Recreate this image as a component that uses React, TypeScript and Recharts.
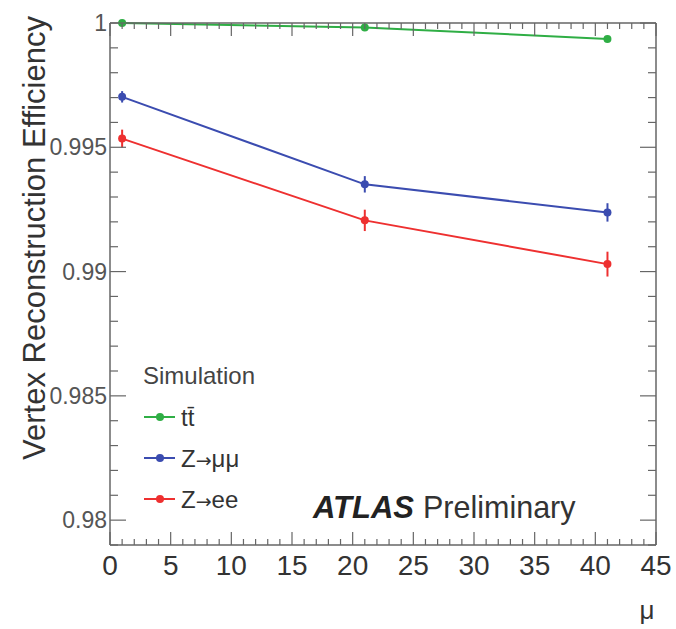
import { LineChart, Line, XAxis, YAxis, ErrorBar } from 'recharts';

// pile-up values and efficiencies
const mu = [1, 21, 41];
const ttbar = [1.0, 0.99982, 0.99936];
const zmumu = [0.99703, 0.99351, 0.99238];
const zmumuErr = [0.00023, 0.00033, 0.00037];
const zee = [0.99535, 0.99206, 0.9903];
const zeeErr = [0.00036, 0.00043, 0.0005];

const xMajorTicks = [0, 5, 10, 15, 20, 25, 30, 35, 40, 45];
const yMajorTicks = [0.98, 0.985, 0.99, 0.995, 1];
const yTickLabels = ['0.98', '0.985', '0.99', '0.995', '1'];

// minor ticks every 1 in mu and every 0.001 in efficiency
const xTicks = Array.from({ length: 46 }, (_, i) => i);
const yTicks = Array.from({ length: 22 }, (_, i) => (979 + i) / 1000);

const data = mu.map((m, i) => ({
  mu: m,
  tt: ttbar[i],
  zmm: zmumu[i],
  zmmErr: zmumuErr[i],
  zee: zee[i],
  zeeErr: zeeErr[i],
}));

const FONT = '"Liberation Sans", Arial, sans-serif';
const FRAME = '#666';
const GREEN = '#2fae45';
const BLUE = '#3b4cb0';
const RED = '#ee3030';

const isMajorX = (v: number) => xMajorTicks.includes(v);
const yMajorIndex = (v: number) => yMajorTicks.findIndex(t => Math.abs(t - v) < 1e-7);

const XTickBottom = (props: any) => {
  const { x, y, payload } = props;
  const major = isMajorX(payload.value);
  return (
    <g>
      <line x1={x} x2={x} y1={y} y2={y - (major ? 13 : 6)} stroke={FRAME} strokeWidth={1.2} />
      {major && (
        <text x={x} y={y + 30} textAnchor="middle" fontSize={28} fontFamily={FONT} fill="#333">
          {payload.value}
        </text>
      )}
    </g>
  );
};

const XTickTop = (props: any) => {
  const { x, y, payload } = props;
  const major = isMajorX(payload.value);
  return <line x1={x} x2={x} y1={y} y2={y + (major ? 13 : 6)} stroke={FRAME} strokeWidth={1.2} />;
};

const YTickLeft = (props: any) => {
  const { x, y, payload } = props;
  const idx = yMajorIndex(payload.value);
  return (
    <g>
      <line x1={x} x2={x + (idx >= 0 ? 16 : 8)} y1={y} y2={y} stroke={FRAME} strokeWidth={1.2} />
      {idx >= 0 && (
        <text x={x - 3} y={y + 8} textAnchor="end" fontSize={23} fontFamily={FONT} fill="#555">
          {yTickLabels[idx]}
        </text>
      )}
    </g>
  );
};

const YTickRight = (props: any) => {
  const { x, y, payload } = props;
  const idx = yMajorIndex(payload.value);
  return <line x1={x} x2={x - (idx >= 0 ? 16 : 8)} y1={y} y2={y} stroke={FRAME} strokeWidth={1.2} />;
};

const legendRows = [
  { pre: 'tt\u0304', arrow: '', post: '', color: GREEN, y: 417 },
  { pre: 'Z', arrow: '\u2192', post: '\u03bc\u03bc', color: BLUE, y: 458 },
  { pre: 'Z', arrow: '\u2192', post: 'ee', color: RED, y: 499 },
];

const axisLine = { stroke: FRAME, strokeWidth: 1.5 };

export default function App() {
  return (
    <div style={{ position: 'absolute', left: 0, top: 0, width: 676, height: 629, background: '#fff' }}>
      <LineChart width={676} height={629} data={data} margin={{ top: 22, right: 19, bottom: 83, left: 109 }}>
        <XAxis xAxisId="b" dataKey="mu" type="number" domain={[0, 45]} ticks={xTicks} interval={0}
          height={1} tickSize={0} tickMargin={0} tick={<XTickBottom />} axisLine={axisLine} tickLine={false} />
        <XAxis xAxisId="t" orientation="top" dataKey="mu" type="number" domain={[0, 45]} ticks={xTicks} interval={0}
          height={1} tickSize={0} tickMargin={0} tick={<XTickTop />} axisLine={axisLine} tickLine={false} />
        <YAxis yAxisId="l" type="number" domain={[0.979, 1]} ticks={yTicks} interval={0}
          width={1} tickSize={0} tickMargin={0} tick={<YTickLeft />} axisLine={axisLine} tickLine={false} />
        <YAxis yAxisId="r" orientation="right" type="number" domain={[0.979, 1]} ticks={yTicks} interval={0}
          width={1} tickSize={0} tickMargin={0} tick={<YTickRight />} axisLine={axisLine} tickLine={false} />
        {/* invisible series so the top and right frame axes are drawn */}
        <Line xAxisId="t" yAxisId="r" dataKey="tt" stroke="none" dot={false} activeDot={false} isAnimationActive={false} />
        <Line xAxisId="b" yAxisId="l" type="linear" dataKey="tt" stroke={GREEN} strokeWidth={2}
          dot={{ r: 4, fill: GREEN, stroke: GREEN, strokeWidth: 0 }} activeDot={false} isAnimationActive={false} />
        <Line xAxisId="b" yAxisId="l" type="linear" dataKey="zmm" stroke={BLUE} strokeWidth={2}
          dot={{ r: 4, fill: BLUE, stroke: BLUE, strokeWidth: 0 }} activeDot={false} isAnimationActive={false}>
          <ErrorBar dataKey="zmmErr" width={0} stroke={BLUE} strokeWidth={2} direction="y" isAnimationActive={false} />
        </Line>
        <Line xAxisId="b" yAxisId="l" type="linear" dataKey="zee" stroke={RED} strokeWidth={2}
          dot={{ r: 4, fill: RED, stroke: RED, strokeWidth: 0 }} activeDot={false} isAnimationActive={false}>
          <ErrorBar dataKey="zeeErr" width={0} stroke={RED} strokeWidth={2} direction="y" isAnimationActive={false} />
        </Line>
      </LineChart>
      <svg width={676} height={629} style={{ position: 'absolute', left: 0, top: 0, pointerEvents: 'none' }} fontFamily={FONT}>
        <text transform="translate(45,16) rotate(-90)" textAnchor="end" fontSize={31} fill="#333">
          Vertex Reconstruction Efficiency
        </text>
        <text x={647} y={619} textAnchor="middle" fontSize={26} fill="#333">{'\u03bc'}</text>
        <text x={143} y={384} fontSize={24} fill="#444">Simulation</text>
        {legendRows.map(r => (
          <g key={r.color}>
            <line x1={144} x2={175} y1={r.y} y2={r.y} stroke={r.color} strokeWidth={2} />
            <circle cx={160} cy={r.y} r={4} fill={r.color} />
            <text x={181} y={r.y + 9} fontSize={24} fill="#333">
              {r.pre}
              {r.arrow && <tspan fontFamily="DejaVu Sans" fontSize={19}>{r.arrow}</tspan>}
              {r.post}
            </text>
          </g>
        ))}
        <text x={313} y={518} fontSize={31} fontWeight="bold" fontStyle="italic" fill="#222">ATLAS</text>
        <text x={423} y={518} fontSize={30.5} fill="#333">Preliminary</text>
      </svg>
    </div>
  );
}
